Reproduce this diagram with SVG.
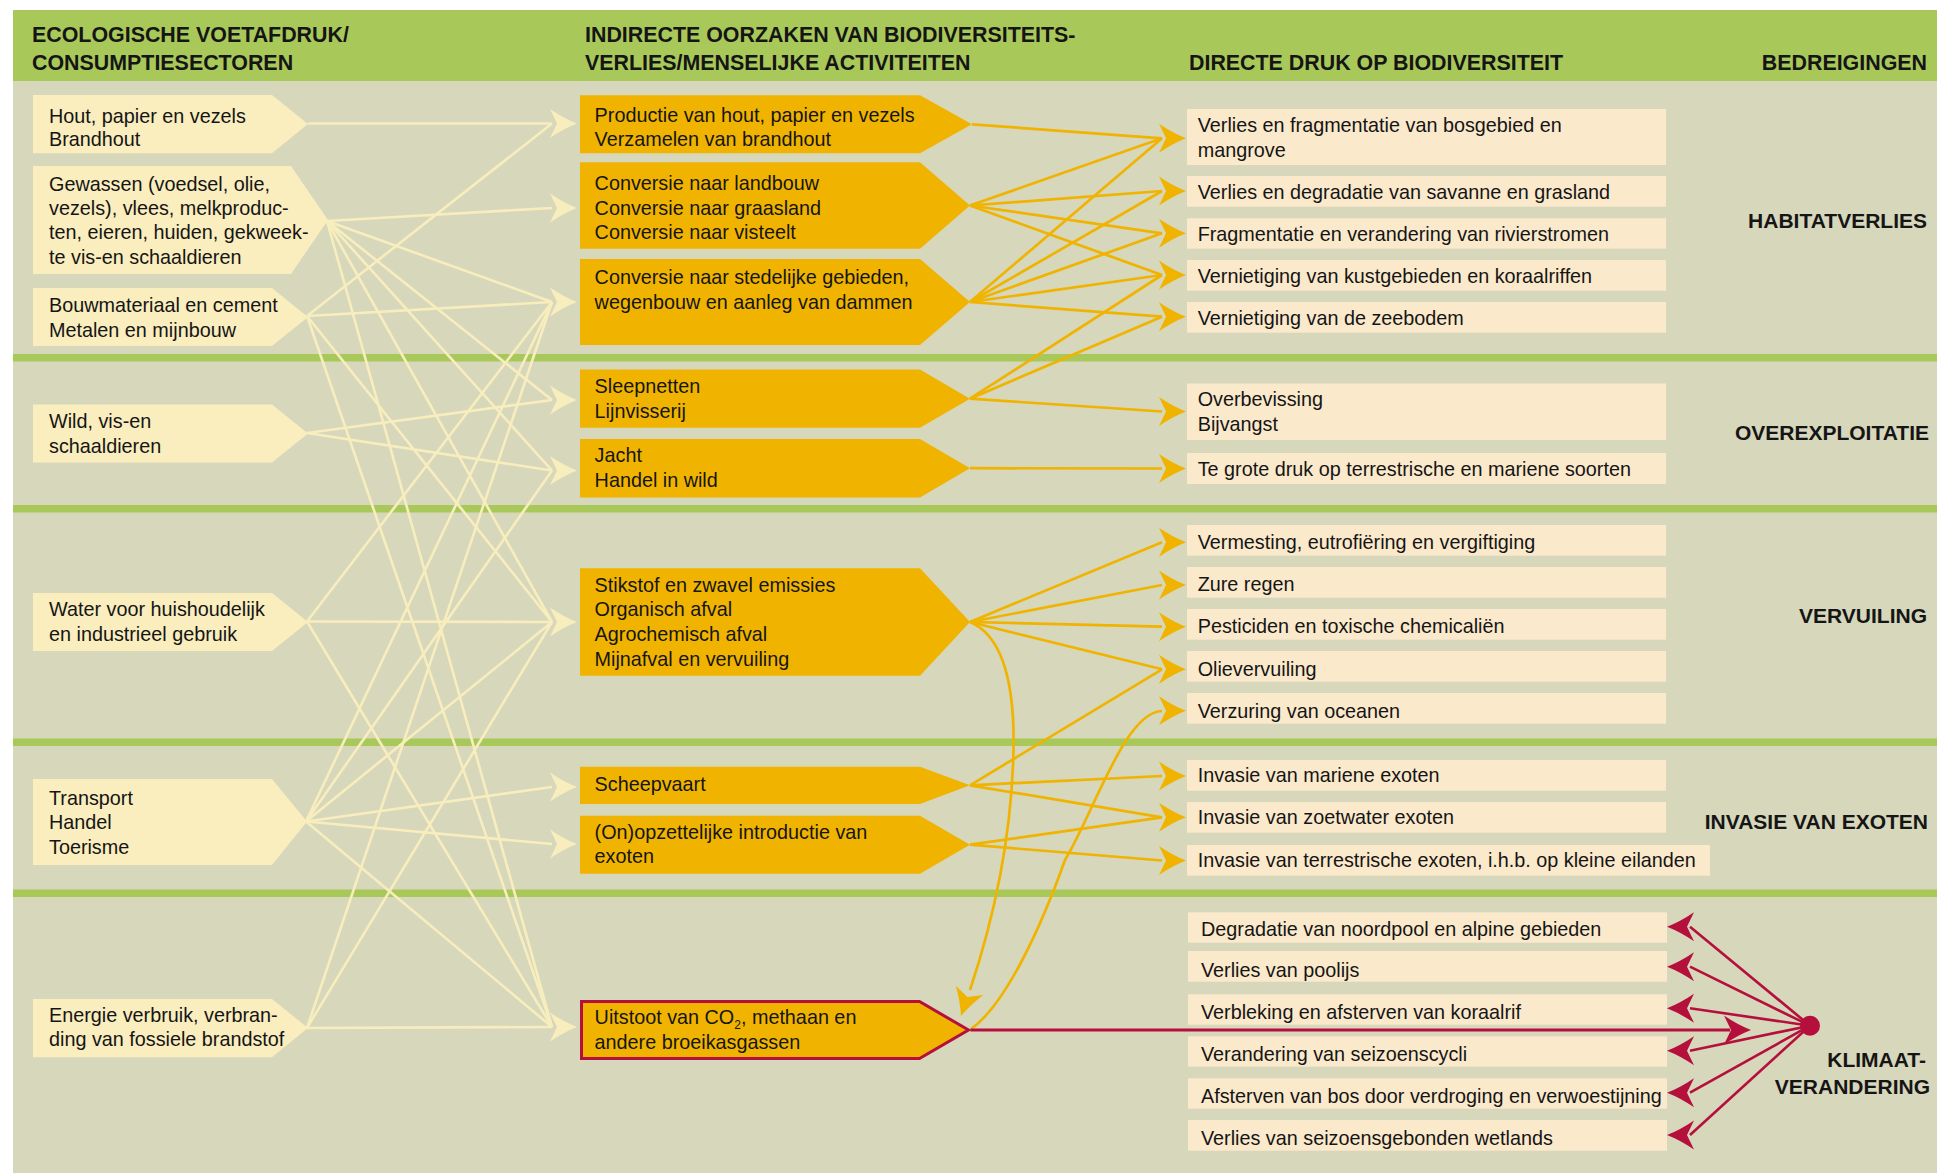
<svg xmlns="http://www.w3.org/2000/svg" xmlns:xlink="http://www.w3.org/1999/xlink" width="1937" height="1173" viewBox="0 0 1937 1173">
<style>
.hd{font-family:"Liberation Sans",Arial,sans-serif;font-weight:bold;font-size:21.4px;fill:#151515}
.lab{font-family:"Liberation Sans",Arial,sans-serif;font-weight:bold;font-size:21px;fill:#151515;text-anchor:end}
.tx{font-family:"Liberation Sans",Arial,sans-serif;font-size:19.8px;fill:#151515}
.lnode{fill:#faedbe}
.mnode{fill:#f0b400}
.rbox{fill:#fbe9cc}
.sep{fill:#a8c95a}
.cl{fill:none;stroke:#f8edbd;stroke-width:2.6}
.ol{fill:none;stroke:#f0b400;stroke-width:2.7}
.rl{fill:none;stroke:#b5103c;stroke-width:2.6}
.ca{fill:#f8edbd}
.oa{fill:#f0b400}
.ra{fill:#b5103c}
</style>
<defs>
<path id="ah" d="M0,0 Q-13,-5 -27,-14.5 L-20,0 L-27,14.5 Q-13,5 0,0Z"/>
</defs>
<rect x="0" y="0" width="1937" height="1173" fill="#ffffff"/>
<rect x="13" y="10" width="1924" height="71" fill="#a8c95a"/>
<rect x="13" y="81" width="1924" height="1092" fill="#d7d7bc"/>
<rect class="sep" x="13" y="354" width="1924" height="7.5"/>
<rect class="sep" x="13" y="505" width="1924" height="7.5"/>
<rect class="sep" x="13" y="738.5" width="1924" height="7.5"/>
<rect class="sep" x="13" y="889.5" width="1924" height="7.5"/>

<g id="headers">
<text class="hd" x="32" y="41.7">ECOLOGISCHE VOETAFDRUK/</text>
<text class="hd" x="32" y="70">CONSUMPTIESECTOREN</text>
<text class="hd" x="585" y="41.7">INDIRECTE OORZAKEN VAN BIODIVERSITEITS-</text>
<text class="hd" x="585" y="69.5">VERLIES/MENSELIJKE ACTIVITEITEN</text>
<text class="hd" x="1189" y="69.5">DIRECTE DRUK OP BIODIVERSITEIT</text>
<text class="lab" x="1927" y="69.5" style="font-size:21.4px">BEDREIGINGEN</text>
</g>

<g id="threat-labels">
<text class="lab" x="1927" y="227.7">HABITATVERLIES</text>
<text class="lab" x="1929" y="439.5">OVEREXPLOITATIE</text>
<text class="lab" x="1927" y="622.7">VERVUILING</text>
<text class="lab" x="1928" y="829.3">INVASIE VAN EXOTEN</text>
<text class="lab" x="1926" y="1067.3">KLIMAAT-</text>
<text class="lab" x="1930" y="1094.3">VERANDERING</text>
</g>

<g id="connectors">
<!-- footprint -> indirect causes -->
<path class="cl" d="M308,123.5 L552,123.5"/>
<path class="cl" d="M327,221 L552,208"/>
<path class="cl" d="M327,221 L552,302"/>
<path class="cl" d="M327,221 L552,400"/>
<path class="cl" d="M327,221 L552,470.5"/>
<path class="cl" d="M327,221 L552,622"/>
<path class="cl" d="M327,221 L552,1027"/>
<path class="cl" d="M307,316 L552,123.5"/>
<path class="cl" d="M307,316 L552,302"/>
<path class="cl" d="M307,316 L552,622"/>
<path class="cl" d="M307,316 L552,1027"/>
<path class="cl" d="M307,433 L552,400"/>
<path class="cl" d="M307,433 L552,470.5"/>
<path class="cl" d="M307,621.5 L552,302"/>
<path class="cl" d="M307,621.5 L552,622"/>
<path class="cl" d="M307,621.5 L552,1027"/>
<path class="cl" d="M306,821.5 L552,302"/>
<path class="cl" d="M306,821.5 L552,470.5"/>
<path class="cl" d="M306,821.5 L552,622"/>
<path class="cl" d="M306,821.5 L552,787"/>
<path class="cl" d="M306,821.5 L552,844"/>
<path class="cl" d="M306,821.5 L552,1027"/>
<path class="cl" d="M307,1028 L552,302"/>
<path class="cl" d="M307,1028 L552,622"/>
<path class="cl" d="M307,1028 L552,1027"/>
<use xlink:href="#ah" class="ca" x="577" y="123.5"/>
<use xlink:href="#ah" class="ca" x="577" y="208"/>
<use xlink:href="#ah" class="ca" x="577" y="302"/>
<use xlink:href="#ah" class="ca" x="577" y="400"/>
<use xlink:href="#ah" class="ca" x="577" y="470.5"/>
<use xlink:href="#ah" class="ca" x="577" y="622"/>
<use xlink:href="#ah" class="ca" x="577" y="787"/>
<use xlink:href="#ah" class="ca" x="577" y="844"/>
<use xlink:href="#ah" class="ca" x="577" y="1027"/>

<!-- indirect causes -> direct pressures -->
<path class="ol" d="M972,124.3 L1162,138.3"/>
<path class="ol" d="M970,205.5 L1162,138.3"/>
<path class="ol" d="M970,205.5 L1162,191"/>
<path class="ol" d="M970,205.5 L1162,233.3"/>
<path class="ol" d="M970,205.5 L1162,275"/>
<path class="ol" d="M970,302 L1162,138.3"/>
<path class="ol" d="M970,302 L1162,191"/>
<path class="ol" d="M970,302 L1162,233.3"/>
<path class="ol" d="M970,302 L1162,275"/>
<path class="ol" d="M970,302 L1162,316.7"/>
<path class="ol" d="M970,398.7 L1162,275"/>
<path class="ol" d="M970,398.7 L1162,316.7"/>
<path class="ol" d="M970,398.7 L1162,411.5"/>
<path class="ol" d="M970,468.2 L1162,468.5"/>
<path class="ol" d="M970,622 L1162,542.3"/>
<path class="ol" d="M970,622 L1162,585"/>
<path class="ol" d="M970,622 L1162,626.7"/>
<path class="ol" d="M970,622 L1162,669.3"/>
<path class="ol" d="M970,785.3 L1162,669.3"/>
<path class="ol" d="M970,785.3 L1162,776"/>
<path class="ol" d="M970,785.3 L1162,817.3"/>
<path class="ol" d="M970,844.7 L1162,817.3"/>
<path class="ol" d="M970,844.7 L1162,860.5"/>
<path class="ol" d="M970,622 C1008,638 1016,700 1013,765 C1010,840 995,915 970,990"/>
<path class="ol" d="M971,1029 C1005,1005 1040,930 1065,860 C1095,810 1125,712 1162,711"/>
<use xlink:href="#ah" class="oa" transform="translate(961,1016) rotate(108.5)"/>
<use xlink:href="#ah" class="oa" x="1186" y="138.3"/>
<use xlink:href="#ah" class="oa" x="1186" y="191"/>
<use xlink:href="#ah" class="oa" x="1186" y="233.3"/>
<use xlink:href="#ah" class="oa" x="1186" y="275"/>
<use xlink:href="#ah" class="oa" x="1186" y="316.7"/>
<use xlink:href="#ah" class="oa" x="1186" y="411.5"/>
<use xlink:href="#ah" class="oa" x="1186" y="468.5"/>
<use xlink:href="#ah" class="oa" x="1186" y="542.3"/>
<use xlink:href="#ah" class="oa" x="1186" y="585"/>
<use xlink:href="#ah" class="oa" x="1186" y="626.7"/>
<use xlink:href="#ah" class="oa" x="1186" y="669.3"/>
<use xlink:href="#ah" class="oa" x="1186" y="710.7"/>
<use xlink:href="#ah" class="oa" x="1186" y="776"/>
<use xlink:href="#ah" class="oa" x="1186" y="817.3"/>
<use xlink:href="#ah" class="oa" x="1186" y="860.5"/>

<!-- climate -->
<path class="rl" d="M970.5,1030 L1730,1030" style="stroke-width:3"/>
<use xlink:href="#ah" class="ra" x="1751" y="1030"/>
<path class="rl" d="M1810,1025.7 L1690,926.7"/>
<path class="rl" d="M1810,1025.7 L1690,966.7"/>
<path class="rl" d="M1810,1025.7 L1690,1008.3"/>
<path class="rl" d="M1810,1025.7 L1690,1050.7"/>
<path class="rl" d="M1810,1025.7 L1690,1092.7"/>
<path class="rl" d="M1810,1025.7 L1690,1135"/>
<use xlink:href="#ah" class="ra" transform="translate(1667,926.7) scale(-1,1)"/>
<use xlink:href="#ah" class="ra" transform="translate(1667,966.7) scale(-1,1)"/>
<use xlink:href="#ah" class="ra" transform="translate(1667,1008.3) scale(-1,1)"/>
<use xlink:href="#ah" class="ra" transform="translate(1667,1050.7) scale(-1,1)"/>
<use xlink:href="#ah" class="ra" transform="translate(1667,1092.7) scale(-1,1)"/>
<use xlink:href="#ah" class="ra" transform="translate(1667,1135) scale(-1,1)"/>
<circle cx="1810" cy="1025.7" r="10" fill="#b5103c"/>
</g>

<g id="L1"><path class="lnode" d="M33,95 H272 L308,124 L272,153.3 H33Z"/>
<text class="tx" x="49" y="122.7">Hout, papier en vezels</text><text class="tx" x="49" y="145.7">Brandhout</text></g>
<g id="L2"><path class="lnode" d="M33,166 H291 L328,220 L291,274 H33Z"/>
<text class="tx" x="49" y="190.7">Gewassen (voedsel, olie,</text><text class="tx" x="49" y="215">vezels), vlees, melkproduc-</text><text class="tx" x="49" y="239.3">ten, eieren, huiden, gekweek-</text><text class="tx" x="49" y="264">te vis-en schaaldieren</text></g>
<g id="L3"><path class="lnode" d="M33,288 H272 L308,317 L272,346 H33Z"/>
<text class="tx" x="49" y="311.7">Bouwmateriaal en cement</text><text class="tx" x="49" y="336.5">Metalen en mijnbouw</text></g>
<g id="L4"><path class="lnode" d="M33,404.4 H272 L308,433.5 L272,462.6 H33Z"/>
<text class="tx" x="49" y="427.8">Wild, vis-en</text><text class="tx" x="49" y="452.6">schaaldieren</text></g>
<g id="L5"><path class="lnode" d="M33,593 H272 L308,622 L272,651 H33Z"/>
<text class="tx" x="49" y="615.5">Water voor huishoudelijk</text><text class="tx" x="49" y="640.5">en industrieel gebruik</text></g>
<g id="L6"><path class="lnode" d="M33,779 H272 L307,821.5 L272,865 H33Z"/>
<text class="tx" x="49" y="805">Transport</text><text class="tx" x="49" y="829.3">Handel</text><text class="tx" x="49" y="854">Toerisme</text></g>
<g id="L7"><path class="lnode" d="M33,999 H272 L308,1028 L272,1057.3 H33Z"/>
<text class="tx" x="49" y="1021.7">Energie verbruik, verbran-</text><text class="tx" x="49" y="1046">ding van fossiele brandstof</text></g>

<g id="M1"><path class="mnode" d="M580,95.3 H920 L972,124.3 L920,153.3 H580Z"/>
<text class="tx" x="594.6" y="121.7">Productie van hout, papier en vezels</text><text class="tx" x="594.6" y="145.7">Verzamelen van brandhout</text></g>
<g id="M2"><path class="mnode" d="M580,162.3 H920 L970,205.5 L920,248.7 H580Z"/>
<text class="tx" x="594.6" y="190">Conversie naar landbouw</text><text class="tx" x="594.6" y="215">Conversie naar graasland</text><text class="tx" x="594.6" y="239.3">Conversie naar visteelt</text></g>
<g id="M3"><path class="mnode" d="M580,259 H920 L970,302 L920,345 H580Z"/>
<text class="tx" x="594.6" y="284">Conversie naar stedelijke gebieden,</text><text class="tx" x="594.6" y="309.3">wegenbouw en aanleg van dammen</text></g>
<g id="M4"><path class="mnode" d="M580,369.6 H920 L970,398.7 L920,427.8 H580Z"/>
<text class="tx" x="594.6" y="393.4">Sleepnetten</text><text class="tx" x="594.6" y="418.2">Lijnvisserij</text></g>
<g id="M5"><path class="mnode" d="M580,439 H920 L970,468.2 L920,497.4 H580Z"/>
<text class="tx" x="594.6" y="462.2">Jacht</text><text class="tx" x="594.6" y="487.4">Handel in wild</text></g>
<g id="M6"><path class="mnode" d="M580,568.3 H920 L970,622 L920,675.7 H580Z"/>
<text class="tx" x="594.6" y="591.7">Stikstof en zwavel emissies</text><text class="tx" x="594.6" y="616.3">Organisch afval</text><text class="tx" x="594.6" y="640.7">Agrochemisch afval</text><text class="tx" x="594.6" y="665.7">Mijnafval en vervuiling</text></g>
<g id="M7"><path class="mnode" d="M580,766.7 H920 L970,785.3 L920,804 H580Z"/>
<text class="tx" x="594.6" y="791">Scheepvaart</text></g>
<g id="M8"><path class="mnode" d="M580,815.7 H920 L970,844.7 L920,873.7 H580Z"/>
<text class="tx" x="594.6" y="839.3">(On)opzettelijke introductie van</text><text class="tx" x="594.6" y="863.3">exoten</text></g>
<g id="M9"><path class="mnode" d="M581.5,1001.5 H919.5 L968.5,1030 L919.5,1058.5 H581.5Z" style="stroke:#b5103c;stroke-width:3"/>
<text class="tx" x="594.6" y="1024">Uitstoot van CO<tspan font-size="12" dy="5">2</tspan><tspan dy="-5">, methaan en</tspan></text><text class="tx" x="594.6" y="1049">andere broeikasgassen</text></g>

<g id="R1"><rect class="rbox" x="1187" y="109" width="479" height="56"/><text class="tx" x="1197.7" y="132.3">Verlies en fragmentatie van bosgebied en</text><text class="tx" x="1197.7" y="156.7">mangrove</text></g>
<g id="R2"><rect class="rbox" x="1187" y="176" width="479" height="30.7"/><text class="tx" x="1197.7" y="199">Verlies en degradatie van savanne en grasland</text></g>
<g id="R3"><rect class="rbox" x="1187" y="218.3" width="479" height="30.4"/><text class="tx" x="1197.7" y="240.7">Fragmentatie en verandering van rivierstromen</text></g>
<g id="R4"><rect class="rbox" x="1187" y="260" width="479" height="30.7"/><text class="tx" x="1197.7" y="282.7">Vernietiging van kustgebieden en koraalriffen</text></g>
<g id="R5"><rect class="rbox" x="1187" y="302" width="479" height="30.7"/><text class="tx" x="1197.7" y="325">Vernietiging van de zeebodem</text></g>
<g id="R6"><rect class="rbox" x="1187" y="383.5" width="479" height="56.5"/><text class="tx" x="1197.7" y="406.3">Overbevissing</text><text class="tx" x="1197.7" y="430.7">Bijvangst</text></g>
<g id="R7"><rect class="rbox" x="1187" y="453" width="479" height="31"/><text class="tx" x="1197.7" y="476">Te grote druk op terrestrische en mariene soorten</text></g>
<g id="R8"><rect class="rbox" x="1187" y="525" width="479" height="30.7"/><text class="tx" x="1197.7" y="549">Vermesting, eutrofiëring en vergiftiging</text></g>
<g id="R9"><rect class="rbox" x="1187" y="567" width="479" height="30.7"/><text class="tx" x="1197.7" y="591">Zure regen</text></g>
<g id="R10"><rect class="rbox" x="1187" y="609" width="479" height="30.7"/><text class="tx" x="1197.7" y="633.3">Pesticiden en toxische chemicaliën</text></g>
<g id="R11"><rect class="rbox" x="1187" y="651" width="479" height="30.7"/><text class="tx" x="1197.7" y="676">Olievervuiling</text></g>
<g id="R12"><rect class="rbox" x="1187" y="693" width="479" height="30.7"/><text class="tx" x="1197.7" y="718.3">Verzuring van oceanen</text></g>
<g id="R13"><rect class="rbox" x="1187" y="760" width="479" height="30.7"/><text class="tx" x="1197.7" y="781.7">Invasie van mariene exoten</text></g>
<g id="R14"><rect class="rbox" x="1187" y="802" width="479" height="30.7"/><text class="tx" x="1197.7" y="824">Invasie van zoetwater exoten</text></g>
<g id="R15"><rect class="rbox" x="1187" y="845" width="523" height="30.7"/><text class="tx" x="1197.7" y="867.3">Invasie van terrestrische exoten, i.h.b. op kleine eilanden</text></g>
<g id="R16"><rect class="rbox" x="1188" y="912.3" width="479" height="30.4"/><text class="tx" x="1201" y="935.7">Degradatie van noordpool en alpine gebieden</text></g>
<g id="R17"><rect class="rbox" x="1188" y="951" width="479" height="30.7"/><text class="tx" x="1201" y="976.7">Verlies van poolijs</text></g>
<g id="R18"><rect class="rbox" x="1188" y="994.3" width="479" height="30.4"/><text class="tx" x="1201" y="1019">Verbleking en afsterven van koraalrif</text></g>
<g id="R19"><rect class="rbox" x="1188" y="1036.3" width="479" height="30.4"/><text class="tx" x="1201" y="1060.7">Verandering van seizoenscycli</text></g>
<g id="R20"><rect class="rbox" x="1188" y="1078.3" width="479" height="30.4"/><text class="tx" x="1201" y="1103.3">Afsterven van bos door verdroging en verwoestijning</text></g>
<g id="R21"><rect class="rbox" x="1188" y="1120" width="479" height="30.7"/><text class="tx" x="1201" y="1145">Verlies van seizoensgebonden wetlands</text></g>
</svg>
